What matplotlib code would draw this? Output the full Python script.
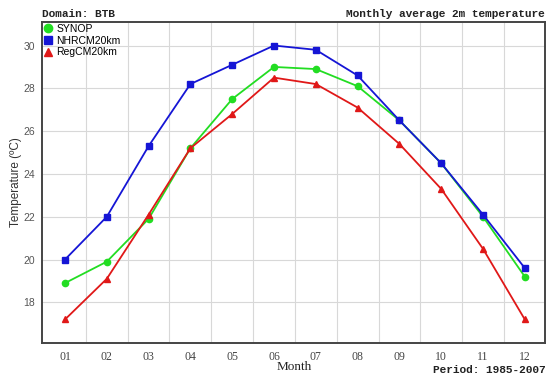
import matplotlib
matplotlib.use("Agg")
import matplotlib.pyplot as plt

# Monthly mean 2m temperature (degC)
months = [1, 2, 3, 4, 5, 6, 7, 8, 9, 10, 11, 12]
month_labels = ["01", "02", "03", "04", "05", "06", "07", "08", "09", "10", "11", "12"]
synop = [18.9, 19.9, 21.9, 25.2, 27.5, 29.0, 28.9, 28.1, 26.5, 24.5, 22.0, 19.2]
nhrcm = [20.0, 22.0, 25.3, 28.2, 29.1, 30.0, 29.8, 28.6, 26.5, 24.5, 22.1, 19.6]
regcm = [17.2, 19.1, 22.1, 25.2, 26.8, 28.5, 28.2, 27.1, 25.4, 23.3, 20.5, 17.2]
y_ticks = [18, 20, 22, 24, 26, 28, 30]

fig = plt.figure(figsize=(5.49, 3.81), dpi=100)
ax = fig.add_axes([0.0765, 0.0997, 0.916, 0.8426])

ax.plot(months, synop, color="#22dd22", marker="o", markersize=4.5, lw=1.3, label="SYNOP")
ax.plot(months, nhrcm, color="#1515d5", marker="s", markersize=4, lw=1.3, label="NHRCM20km")
ax.plot(months, regcm, color="#e01818", marker="^", markersize=5, lw=1.3, label="RegCM20km")

ax.set_xlim(0.45, 12.48)
ax.set_ylim(16.1, 31.1)
ax.set_xticks(months)
ax.set_xticklabels(month_labels, family="Liberation Serif", fontsize=8.5, color="#444444")
ax.set_yticks(y_ticks)
ax.set_yticklabels([str(v) for v in y_ticks], family="Liberation Sans",
                   fontsize=7.5, color="#555555")
ax.set_xticks([m + 0.5 for m in months[:-1]], minor=True)
ax.tick_params(which="both", length=0)
ax.tick_params(axis="x", pad=6)
ax.tick_params(axis="y", pad=5)
ax.grid(True, which="minor", axis="x", color="#d8d8d8", lw=0.8)
ax.grid(True, which="major", axis="y", color="#d8d8d8", lw=0.8)
for s in ax.spines.values():
    s.set_color("#444444")
    s.set_linewidth(1.4)

ax.set_ylabel("Temperature (ºC)", family="Liberation Sans", fontsize=8.5, color="#333333",
              labelpad=1)
fig.text(0.536, 0.036, "Month", family="Liberation Serif", fontsize=9.5, ha="center",
         va="center", color="#222222")

ax.legend(loc="upper left", frameon=False, prop={"family": "Liberation Sans", "size": 7.5},
          handlelength=0.8, handletextpad=0.4, labelspacing=0.15, borderaxespad=0.1,
          borderpad=0.1)
leg = ax.get_legend()
for h in leg.legend_handles:
    h.set_linestyle("none")
    h.set_markersize(6)

fig.text(0.0765, 0.955, "Domain: BTB", family="Liberation Mono", fontsize=8, weight="bold",
         color="#222222")
fig.text(0.993, 0.955, "Monthly average 2m temperature", family="Liberation Mono", fontsize=8,
         weight="bold", ha="right", color="#222222")
fig.text(0.993, 0.028, "Period: 1985-2007", family="Liberation Mono", fontsize=8, weight="bold",
         ha="right", va="center", color="#222222")

fig.savefig("out.png", dpi=100)
